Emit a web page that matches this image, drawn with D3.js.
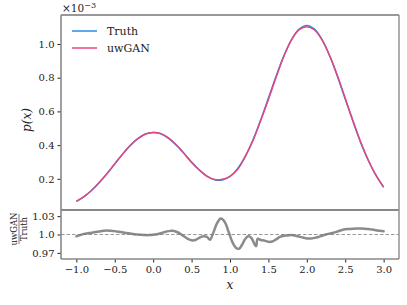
<!DOCTYPE html>
<html>
<head>
<meta charset="utf-8">
<script src="https://cdn.jsdelivr.net/npm/d3@7"></script>
<style>
  body { margin: 0; background: #fff; }
  svg text { font-family: "DejaVu Serif", serif; fill: #222; }
</style>
</head>
<body>
<svg id="chart" width="407" height="305"></svg>
<script>
// x grid of the density curves
const xGrid = [-1.0, -0.9, -0.8, -0.7, -0.6, -0.5, -0.4, -0.3, -0.2, -0.1,
  0.0, 0.1, 0.2, 0.3, 0.4, 0.5, 0.6, 0.7, 0.8, 0.9,
  1.0, 1.1, 1.2, 1.3, 1.4, 1.5, 1.6, 1.7, 1.8, 1.9,
  2.0, 2.1, 2.2, 2.3, 2.4, 2.5, 2.6, 2.7, 2.8, 2.9, 3.0];

// p(x) in units of 1e-3
const truthVals = [0.066, 0.094, 0.132, 0.178, 0.231, 0.288, 0.345, 0.397, 0.438, 0.466,
  0.475, 0.467, 0.440, 0.400, 0.352, 0.300, 0.253, 0.216, 0.194, 0.193,
  0.214, 0.262, 0.335, 0.432, 0.550, 0.679, 0.809, 0.928, 1.025, 1.088,
  1.110, 1.088, 1.025, 0.927, 0.806, 0.673, 0.541, 0.416, 0.309, 0.220, 0.150];

const uwganVals = [0.066, 0.094, 0.132, 0.179, 0.232, 0.290, 0.346, 0.398, 0.438, 0.466,
  0.475, 0.468, 0.443, 0.402, 0.351, 0.297, 0.252, 0.215, 0.196, 0.198,
  0.215, 0.256, 0.333, 0.428, 0.546, 0.671, 0.802, 0.926, 1.025, 1.085,
  1.103, 1.083, 1.023, 0.928, 0.810, 0.678, 0.546, 0.420, 0.312, 0.222, 0.151];

// ratio uwGAN / Truth
const ratioX = [-1.0, -0.95, -0.9, -0.85, -0.8, -0.75, -0.7, -0.65, -0.6, -0.55,
  -0.5, -0.45, -0.4, -0.35, -0.3, -0.25, -0.2, -0.15, -0.1, -0.05,
  0.0, 0.05, 0.1, 0.15, 0.2, 0.25, 0.3, 0.35, 0.4, 0.45,
  0.5, 0.55, 0.6, 0.65, 0.7, 0.74, 0.78, 0.83, 0.88, 0.93,
  0.98, 1.03, 1.08, 1.12, 1.16, 1.2, 1.24, 1.28, 1.32, 1.34,
  1.36, 1.4, 1.45, 1.5, 1.55, 1.6, 1.65, 1.7, 1.75, 1.8,
  1.85, 1.9, 1.95, 2.0, 2.05, 2.1, 2.15, 2.2, 2.25, 2.3,
  2.35, 2.4, 2.45, 2.5, 2.55, 2.6, 2.65, 2.7, 2.75, 2.8,
  2.85, 2.9, 2.95, 3.0];
const ratioVals = [0.997, 0.999, 1.001, 1.002, 1.003, 1.004, 1.005, 1.006, 1.0065, 1.006,
  1.0055, 1.0045, 1.0035, 1.0025, 1.0015, 1.0005, 1.0, 0.9995, 0.999, 0.999,
  0.9995, 1.0005, 1.002, 1.004, 1.0055, 1.006, 1.0045, 1.0015, 0.997, 0.993,
  0.9905, 0.991, 0.9945, 0.997, 0.996, 0.9915, 1.002, 1.018, 1.026, 1.021,
  1.005, 0.988, 0.978, 0.977, 0.984, 0.993, 0.9975, 0.994, 0.984, 0.981,
  0.993, 0.991, 0.990, 0.988, 0.9885, 0.992, 0.996, 0.998, 0.9985, 0.999,
  0.998, 0.9965, 0.995, 0.9935, 0.9935, 0.9945, 0.996, 0.998, 1.0, 1.0015,
  1.003, 1.005, 1.007, 1.0085, 1.009, 1.0095, 1.0098, 1.0098, 1.0095, 1.009,
  1.008, 1.007, 1.006, 1.0055];

const xTicks = [-1.0, -0.5, 0.0, 0.5, 1.0, 1.5, 2.0, 2.5, 3.0];
const yTicksTop = [0.2, 0.4, 0.6, 0.8, 1.0];
const yTicksBottom = [0.97, 1.0, 1.03];
const seriesNames = ["Truth", "uwGAN"];
const seriesColors = ["#2b8be6", "#e8457c"];

const svg = d3.select("#chart");
const padL = 61, padR = 399, padT = 15, padMid = 210, padB = 259;

const x = d3.scaleLinear().domain([-1.2, 3.2]).range([padL, padR]);
const yTop = d3.scaleLinear().domain([0.015, 1.172]).range([padMid, padT]);
const yBot = d3.scaleLinear().domain([0.96, 1.04]).range([padB, padMid]);

const fmt = (d) => d3.format(".1f")(d).replace("-", "\u2212");

// ---- top panel
const lineTop = (vals) => d3.line()
  .x((d, i) => x(xGrid[i]))
  .y((d) => yTop(d))
  .curve(d3.curveCatmullRom.alpha(0.5))(vals);

svg.append("path")
  .attr("d", lineTop(truthVals))
  .attr("fill", "none")
  .attr("stroke", seriesColors[0])
  .attr("stroke-width", 1.5);

svg.append("path")
  .attr("d", lineTop(uwganVals))
  .attr("fill", "none")
  .attr("stroke", seriesColors[1])
  .attr("stroke-width", 1.5);

const axTop = svg.append("g")
  .attr("transform", `translate(${padL},0)`)
  .call(d3.axisLeft(yTop).tickValues(yTicksTop).tickSize(3.5).tickPadding(3)
    .tickFormat((d) => d3.format(".1f")(d)));
axTop.select(".domain").remove();
axTop.selectAll("text").attr("font-size", 10).attr("fill", "#222");
axTop.selectAll("line").attr("stroke", "#222");

// ---- bottom panel
svg.append("line")
  .attr("x1", padL).attr("x2", padR)
  .attr("y1", yBot(1.0)).attr("y2", yBot(1.0))
  .attr("stroke", "#999")
  .attr("stroke-width", 1)
  .attr("stroke-dasharray", "3.5,2");

svg.append("path")
  .attr("d", d3.line()
    .x((d, i) => x(ratioX[i]))
    .y((d) => yBot(d))
    .curve(d3.curveCatmullRom.alpha(0.5))(ratioVals))
  .attr("fill", "none")
  .attr("stroke", "#777")
  .attr("stroke-opacity", 0.85)
  .attr("stroke-width", 2.5)
  .attr("stroke-linejoin", "round")
  .attr("stroke-linecap", "round");

const axBot = svg.append("g")
  .attr("transform", `translate(${padL},0)`)
  .call(d3.axisLeft(yBot).tickValues(yTicksBottom).tickSize(3.5).tickPadding(3)
    .tickFormat((d) => (d === 1 ? "1.0" : d3.format(".2f")(d))));
axBot.select(".domain").remove();
axBot.selectAll("text").attr("font-size", 10).attr("fill", "#222");
axBot.selectAll("line").attr("stroke", "#222");

const axX = svg.append("g")
  .attr("transform", `translate(0,${padB})`)
  .call(d3.axisBottom(x).tickValues(xTicks).tickSize(3.5).tickPadding(3).tickFormat(fmt));
axX.select(".domain").remove();
axX.selectAll("text").attr("font-size", 10).attr("fill", "#222");
axX.selectAll("line").attr("stroke", "#222");

// ---- spines
const spine = (x1, y1, x2, y2, c, w) => svg.append("line")
  .attr("x1", x1).attr("y1", y1).attr("x2", x2).attr("y2", y2)
  .attr("stroke", c).attr("stroke-width", w);
spine(padL, padT, padR, padT, "#333", 1);
spine(padL, padMid, padR, padMid, "#111", 1);
spine(padL, padT, padL, padB, "#888", 1.6);
spine(padR, padT, padR, padB, "#999", 1.6);
spine(padL, padB, padR, padB, "#888", 1.6);

// ---- legend
seriesNames.forEach((name, i) => {
  const ly = 31 + i * 17;
  svg.append("line")
    .attr("x1", 72).attr("x2", 97)
    .attr("y1", ly).attr("y2", ly)
    .attr("stroke", seriesColors[i])
    .attr("stroke-width", 1.5);
  svg.append("text")
    .attr("x", 107).attr("y", ly + 4)
    .attr("font-size", 11)
    .text(name);
});

// ---- labels
svg.append("text")
  .attr("x", 62).attr("y", 12)
  .attr("font-size", 10.5)
  .text("\u00d710")
  .append("tspan")
  .attr("dy", -4.5)
  .attr("font-size", 8)
  .text("\u22123");

svg.append("text")
  .attr("transform", "translate(31,120) rotate(-90)")
  .attr("text-anchor", "middle")
  .attr("font-size", 12)
  .attr("font-style", "italic")
  .text("p(x)");

svg.append("text")
  .attr("x", x(1.0)).attr("y", 289)
  .attr("text-anchor", "middle")
  .attr("font-size", 12)
  .attr("font-style", "italic")
  .text("x");

const frac = svg.append("g").attr("transform", "translate(19,229) rotate(-90)");
frac.append("text")
  .attr("x", 0).attr("y", -2.5)
  .attr("text-anchor", "middle")
  .attr("font-size", 8.5)
  .text("uwGAN");
frac.append("line")
  .attr("x1", -15).attr("x2", 15)
  .attr("y1", 0).attr("y2", 0)
  .attr("stroke", "#222").attr("stroke-width", 0.6);
frac.append("text")
  .attr("x", 0).attr("y", 8)
  .attr("text-anchor", "middle")
  .attr("font-size", 8.5)
  .text("Truth");
</script>
</body>
</html>
